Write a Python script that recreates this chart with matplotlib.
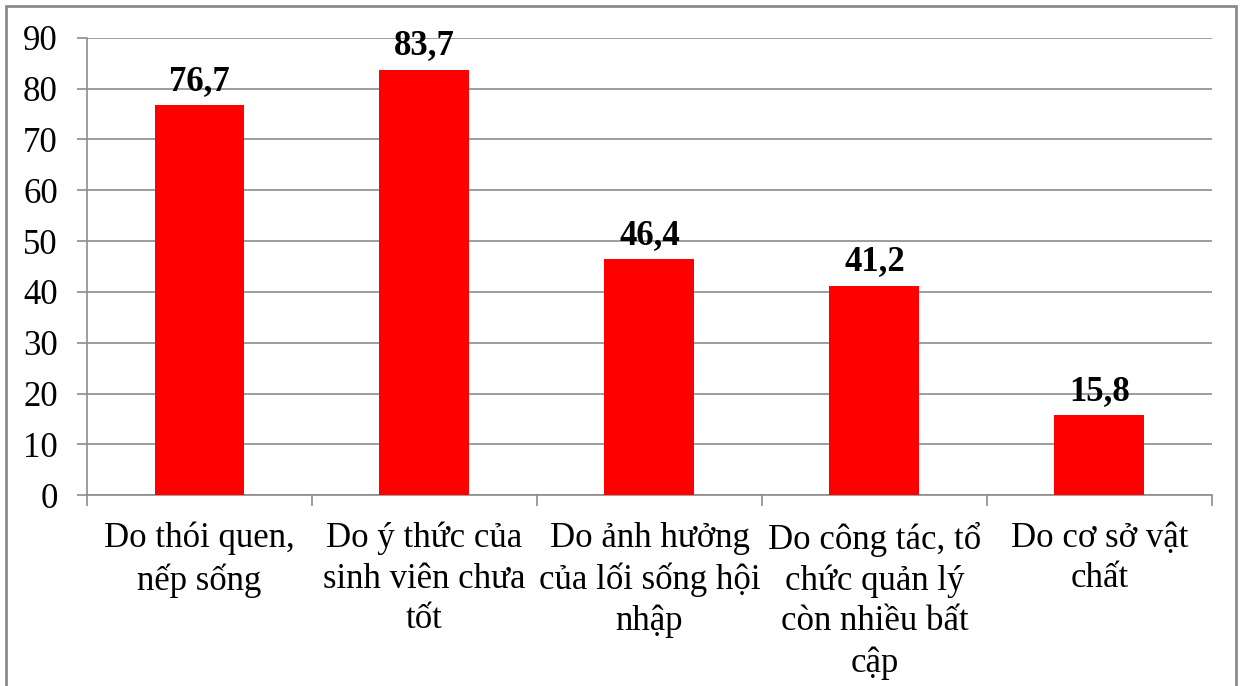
import matplotlib.pyplot as plt
from matplotlib.patches import Rectangle

# Nguyên nhân và tỷ lệ (%)
nguyen_nhan = [
    "Do thói quen,\nnếp sống",
    "Do ý thức của\nsinh viên chưa\ntốt",
    "Do ảnh hưởng\ncủa lối sống hội\nnhập",
    "Do công tác, tổ\nchức quản lý\ncòn nhiều bất\ncập",
    "Do cơ sở vật\nchất",
]
ty_le = [76.7, 83.7, 46.4, 41.2, 15.8]
y_ticks = [0, 10, 20, 30, 40, 50, 60, 70, 80, 90]

plt.rcParams['font.family'] = ['Liberation Serif', 'DejaVu Serif']
GRID = "#8c8c8c"

fig = plt.figure(figsize=(12.43, 6.86), dpi=100)
ax = fig.add_axes([0.070, 0.278, 0.905, 0.667])

x = list(range(len(ty_le)))
ax.bar(x, ty_le, width=0.4, color="#ff0000", zorder=3)

for xi, v in zip(x, ty_le):
    ax.annotate(f"{v:.1f}".replace(".", ","), (xi, v), xytext=(0, 11),
                textcoords="offset points", ha="center", va="baseline",
                fontsize=25, fontweight="bold", zorder=4)

ax.set_xlim(-0.5, len(ty_le) - 0.5)
ax.set_ylim(0, 90)
ax.set_yticks(y_ticks)
ax.tick_params(axis="y", labelsize=25, length=7, width=1.2, color=GRID, pad=14)
ax.grid(axis="y", color=GRID, linewidth=1.2, zorder=0)

# nhãn danh mục nằm giữa, vạch chia nằm giữa các cột
ax.set_xticks([i - 0.5 for i in range(len(ty_le) + 1)])
ax.set_xticklabels([])
ax.tick_params(axis="x", length=8, width=1.2, color=GRID)
for xi, lab in zip(x, nguyen_nhan):
    ax.annotate(lab, (xi, 0), xytext=(0, -19), textcoords="offset points",
                ha="center", va="top", fontsize=25, linespacing=1.3,
                annotation_clip=False)

for s in ["top", "right"]:
    ax.spines[s].set_visible(False)
for s in ["left", "bottom"]:
    ax.spines[s].set_color(GRID)
    ax.spines[s].set_linewidth(1.2)

# khung viền quanh biểu đồ
fig.patches.append(Rectangle((6 / 1243, -0.05), 1230 / 1243, 1.05 - 6 / 686,
                             transform=fig.transFigure, fill=False,
                             edgecolor="#8c8c8c", linewidth=2))

fig.savefig("out.png", dpi=100)
